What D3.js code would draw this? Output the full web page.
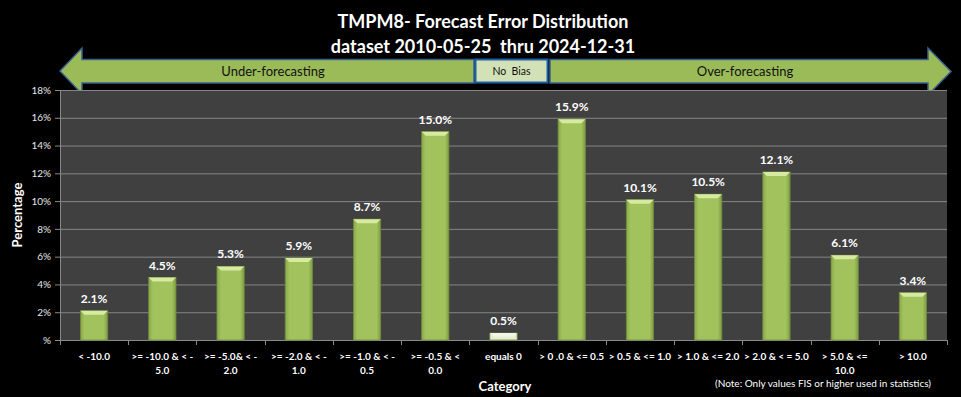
<!DOCTYPE html>
<html>
<head>
<meta charset="utf-8">
<script src="https://cdn.jsdelivr.net/npm/d3@7"></script>
<style>
  body { margin: 0; background: #000; }
  svg { display: block; font-family: Lato, "Open Sans", sans-serif; }
</style>
</head>
<body>
<div id="chart-section"></div>
<script>
// categories (line breaks as in the original labels)
var categories = [
  ["< -10.0"],
  [">= -10.0 & < -", "5.0"],
  [">= -5.0& < -", "2.0"],
  [">= -2.0 & < -", "1.0"],
  [">= -1.0 & < -", "0.5"],
  [">= -0.5 & <", "0.0"],
  ["equals 0"],
  ["> 0 .0 & <= 0.5"],
  ["> 0.5 & <= 1.0"],
  ["> 1.0 & <= 2.0"],
  ["> 2.0 & < = 5.0"],
  ["> 5.0 & <=", "10.0"],
  ["> 10.0"]
];
var percents = [2.1, 4.5, 5.3, 5.9, 8.7, 15.0, 0.5, 15.9, 10.1, 10.5, 12.1, 6.1, 3.4];
var yTicks = [0, 2, 4, 6, 8, 10, 12, 14, 16, 18];

var W = 961, H = 397;
var margin = {top: 90, right: 14, bottom: 57, left: 60},
    width = W - margin.left - margin.right,
    height = H - margin.top - margin.bottom;

var svg = d3.select("#chart-section")
  .append("svg")
  .attr("width", W)
  .attr("height", H);

svg.append("rect").attr("width", W).attr("height", H).attr("fill", "#000");

var defs = svg.append("defs");
var grad = defs.append("linearGradient").attr("id", "barGrad")
  .attr("x1", "0").attr("x2", "1").attr("y1", "0").attr("y2", "0");
grad.append("stop").attr("offset", "0%").attr("stop-color", "#8aa84c");
grad.append("stop").attr("offset", "15%").attr("stop-color", "#a2c25e");
grad.append("stop").attr("offset", "85%").attr("stop-color", "#a2c25e");
grad.append("stop").attr("offset", "100%").attr("stop-color", "#7f9c45");

// title
svg.append("text").text("TMPM8- Forecast Error Distribution")
  .attr("x", 483).attr("y", 28).attr("text-anchor", "middle")
  .attr("fill", "#fff").attr("font-weight", "bold").attr("font-size", 18);
svg.append("text").text("dataset 2010-05-25  thru 2024-12-31")
  .attr("x", 483).attr("y", 53).attr("text-anchor", "middle")
  .attr("fill", "#fff").attr("font-weight", "bold").attr("font-size", 18)
  .style("white-space", "pre");

// direction arrows
var arrowFill = "#9bbb59", arrowStroke = "#3b5f8c";
svg.append("path")
  .attr("d", "M60,71 L82,48 L82,59.5 L474,59.5 L474,83 L82,83 L82,94 Z")
  .attr("fill", arrowFill).attr("stroke", arrowStroke).attr("stroke-width", 1.5);
svg.append("path")
  .attr("d", "M550,59.5 L928,59.5 L928,48 L951,71.5 L928,95 L928,83 L550,83 Z")
  .attr("fill", arrowFill).attr("stroke", arrowStroke).attr("stroke-width", 1.5);
svg.append("rect").attr("x", 475.5).attr("y", 59.5).attr("width", 72).attr("height", 23)
  .attr("fill", "#d3e2b6").attr("stroke", "#1f5fa8").attr("stroke-width", 2);
svg.append("text").text("Under-forecasting").attr("x", 273).attr("y", 76)
  .attr("text-anchor", "middle").attr("font-size", 13).attr("fill", "#111");
svg.append("text").text("Over-forecasting").attr("x", 745).attr("y", 76)
  .attr("text-anchor", "middle").attr("font-size", 13).attr("fill", "#111");
svg.append("text").text("No  Bias").attr("x", 511.5).attr("y", 75)
  .attr("text-anchor", "middle").attr("font-size", 10.5).attr("fill", "#111")
  .style("white-space", "pre");

var chart = svg.append("g")
  .attr("transform", "translate(" + margin.left + "," + margin.top + ")");

var xscale = d3.scaleBand()
  .domain(d3.range(categories.length))
  .range([0, width])
  .paddingInner(0.6).paddingOuter(0.3);

var yscale = d3.scaleLinear().domain([0, 18]).range([height, 0]);

chart.append("rect").attr("width", width).attr("height", height).attr("fill", "#404040");

// gridlines
chart.selectAll(".grid").data(yTicks.slice(1)).enter()
  .append("line")
  .attr("x1", 0).attr("x2", width)
  .attr("y1", d => yscale(d) + 0.5).attr("y2", d => yscale(d) + 0.5)
  .attr("stroke", "#858585").attr("stroke-width", 1);

// y axis
var yAxis = chart.append("g")
  .call(d3.axisLeft(yscale).tickValues(yTicks).tickSize(5).tickPadding(4)
    .tickFormat(d => d === 0 ? "%" : d + "%"));
yAxis.select(".domain").attr("stroke", "#8a8a8a");
yAxis.selectAll(".tick line").attr("stroke", "#8a8a8a");
yAxis.selectAll("text").attr("fill", "#e8e8e8").attr("font-size", 10)
  .attr("font-family", "Lato, sans-serif");

// x axis (ticks on category boundaries)
var step = width / categories.length;
var xAxis = chart.append("g").attr("transform", "translate(0," + height + ")");
xAxis.append("line").attr("x1", 0).attr("x2", width)
  .attr("y1", 0.5).attr("y2", 0.5).attr("stroke", "#8a8a8a");
xAxis.selectAll(".xt").data(d3.range(categories.length + 1)).enter()
  .append("line")
  .attr("x1", d => Math.round(d * step) + 0.5).attr("x2", d => Math.round(d * step) + 0.5)
  .attr("y1", 0).attr("y2", 5).attr("stroke", "#8a8a8a");

var labels = xAxis.selectAll(".xl").data(categories).enter()
  .append("text")
  .attr("text-anchor", "middle")
  .attr("fill", "#fff").attr("font-weight", "bold").attr("font-size", 10)
  .attr("transform", (d, i) => "translate(" + (xscale(i) + xscale.bandwidth() / 2) + ",20)");
labels.selectAll("tspan").data(d => d).enter()
  .append("tspan")
  .attr("x", 0).attr("dy", (d, j) => j === 0 ? 0 : 14)
  .text(d => d);

// bars
var bars = chart.selectAll(".bar").data(percents).enter().append("g");
bars.append("rect")
  .attr("x", (d, i) => xscale(i))
  .attr("y", d => yscale(d))
  .attr("width", xscale.bandwidth())
  .attr("height", d => height - yscale(d))
  .attr("fill", "url(#barGrad)")
  .attr("stroke", "#6f8a3a").attr("stroke-width", 0.8);
bars.append("path")
  .attr("d", (d, i) => {
    var x0 = xscale(i), x1 = x0 + xscale.bandwidth(), y0 = yscale(d);
    var c = Math.min(4, (height - y0) / 2);
    return "M" + x0 + "," + y0 + "L" + x1 + "," + y0 + "L" + (x1 - 4) + "," + (y0 + c) +
      "L" + (x0 + 4) + "," + (y0 + c) + "Z";
  })
  .attr("fill", (d, i) => i === 6 ? "#f2f7e6" : "#d6eaa0");
bars.filter((d, i) => i === 6).select("rect").attr("fill", "#e6efd2");

bars.append("text")
  .attr("x", (d, i) => xscale(i) + xscale.bandwidth() / 2)
  .attr("y", d => yscale(d) - 8)
  .attr("text-anchor", "middle")
  .attr("fill", "#fff").attr("font-weight", "bold").attr("font-size", 12)
  .text(d => d.toFixed(1) + "%");

// axis titles
svg.append("text").text("Category")
  .attr("x", 505).attr("y", 391).attr("text-anchor", "middle")
  .attr("fill", "#fff").attr("font-weight", "bold").attr("font-size", 13);
svg.append("text").text("Percentage")
  .attr("transform", "translate(22," + (margin.top + height / 2) + ") rotate(-90)")
  .attr("text-anchor", "middle")
  .attr("fill", "#fff").attr("font-weight", "bold").attr("font-size", 13);
svg.append("text").text("(Note: Only values FIS or higher used in statistics)")
  .attr("x", 823).attr("y", 387).attr("text-anchor", "middle")
  .attr("fill", "#fff").attr("font-size", 10);
</script>
</body>
</html>
